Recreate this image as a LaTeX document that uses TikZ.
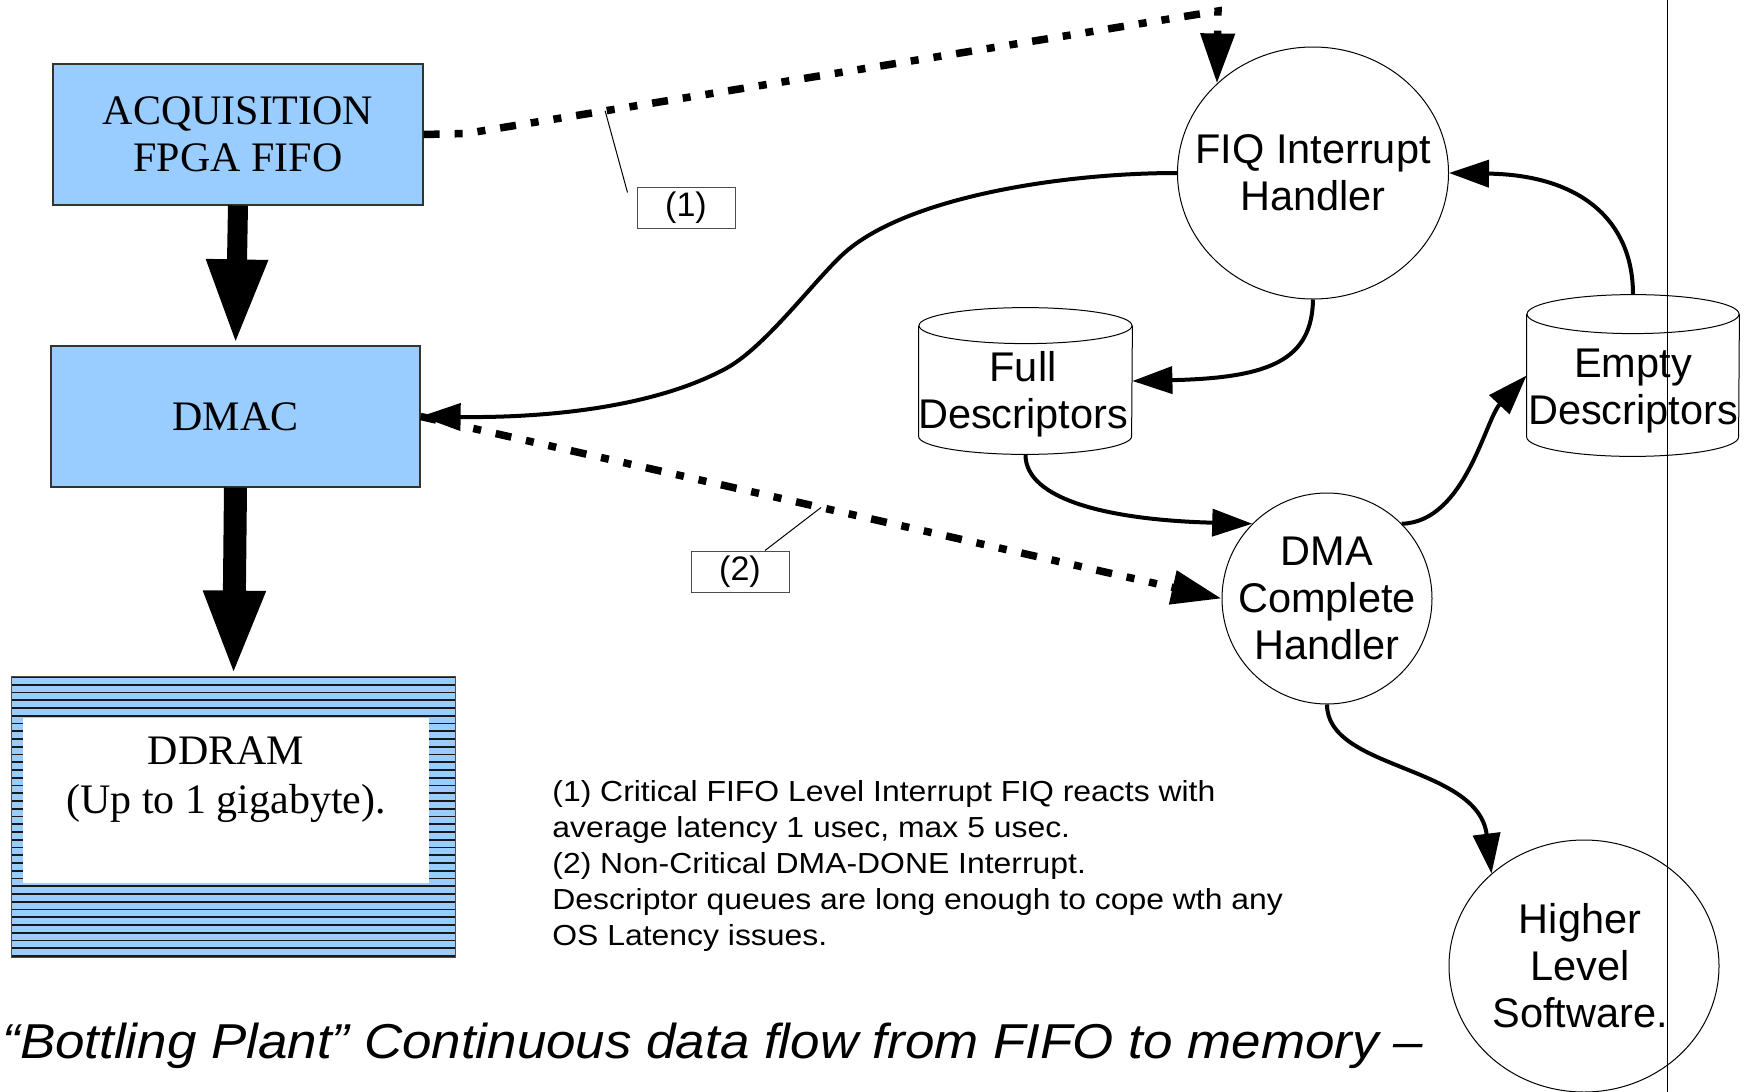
\documentclass[tikz,border=0pt]{standalone}
\usepackage{fontspec}
\setmainfont{Liberation Serif}
\newfontfamily\sansf{Liberation Sans}
\newfontfamily\notesf[FakeStretch=1.1]{Liberation Sans}
\newfontfamily\captf[FakeStretch=1.08]{Liberation Sans}
\usetikzlibrary{arrows.meta,shapes.geometric,calc}
\definecolor{boxblue}{HTML}{99CCFF}
\begin{document}
\begin{tikzpicture}[x=0.5pt,y=0.5pt,
  bluebox/.style={draw=black!80, line width=0.6pt, fill=boxblue, inner sep=0pt, align=center,
    font=\fontsize{21pt}{23.6pt}\selectfont},
  handler/.style={ellipse, draw=black, line width=0.5pt, inner sep=0pt},
  htext/.style={align=center, inner sep=0pt, font=\sansf\fontsize{20.75pt}{23.5pt}\selectfont},
  cylbox/.style={inner sep=0pt},
  cyltext/.style={align=center, inner sep=0pt, font=\sansf\fontsize{20.75pt}{23.25pt}\selectfont},
  flow/.style={line width=2pt, -{Triangle[length=20pt,width=13.5pt]}},
  irq/.style={line width=3.75pt, dash pattern=on 8pt off 7.5pt on 4pt off 7.5pt on 4pt off 7.5pt,
    -{Triangle[length=25pt,width=16.5pt]}},
  bigarrow/.style={-{Triangle[length=43pt,width=28pt]}},
  callout/.style={line width=0.5pt, draw=black},
  tag/.style={draw=black!70, line width=0.5pt, minimum width=49pt, minimum height=20.5pt, inner sep=0pt,
    font=\sansf\fontsize{17pt}{20pt}\selectfont},
]
\useasboundingbox (0,0) rectangle (1751,-1092);

% ---- left column boxes
\node[bluebox, minimum width=185pt, minimum height=70.5pt] (acq) at (238,-134.5) {ACQUISITION\\FPGA FIFO};
\node[bluebox, minimum width=184.5pt, minimum height=70.5pt] (dmac) at (235.5,-416.5) {DMAC};

% ---- DDRAM striped box
\node[inner sep=0pt, minimum width=221.5pt, minimum height=140pt] (ddram) at (233.5,-817) {};
\fill[boxblue] (ddram.south west) rectangle (ddram.north east);
\foreach \i in {0,...,36} {
  \draw[black!90, line width=0.9pt] (12,{-677-7.75*\i}) -- (455,{-677-7.75*\i});
}
\draw[black!70, line width=0.7pt] (ddram.south west) rectangle (ddram.north east);
\fill[white] (23,-718) rectangle (429,-883);
\node[align=center, inner sep=0pt, font=\fontsize{21pt}{24.5pt}\selectfont] (ddramtext) at (226,-780) {DDRAM\\(Up to 1 gigabyte).};

% ---- big arrows
\draw[bigarrow, line width=10pt] (acq.south) -- (dmac.north);
\draw[bigarrow, line width=11.5pt] (dmac.south) -- (ddram.north);

% ---- handlers
\node[handler, minimum width=135.5pt, minimum height=126pt] (fiq) at (1313,-173) {};
\node[htext] (fiqtext) at (1313,-173) {FIQ Interrupt\\Handler};
\node[handler, minimum width=105pt, minimum height=105.5pt] (dma) at (1327,-598.5) {};
\node[htext] (dmatext) at (1327,-598.5) {DMA\\Complete\\Handler};
\node[handler, minimum width=135pt, minimum height=126pt] (hls) at (1584,-966) {};
\node[htext] (hlstext) at (1580,-966) {Higher\\Level\\Software.};

% ---- cylinders
\node[cylbox, minimum width=106.5pt, minimum height=73pt] (full) at (1025.5,-381) {};
\draw[line width=0.5pt] ([yshift=-9pt]full.north) ellipse [x radius=53.25pt, y radius=9pt];
\draw[line width=0.5pt] ([yshift=-9pt]full.north west) -- ([yshift=9pt]full.south west)
  arc[start angle=180, end angle=360, x radius=53.25pt, y radius=9pt] -- ([yshift=-9pt]full.north east);
\node[cyltext] (fulltext) at (1023,-394.5) {Full\\Descriptors};

\node[cylbox, minimum width=106pt, minimum height=80.5pt] (emp) at (1633,-375.5) {};
\draw[line width=0.5pt] ([yshift=-9.75pt]emp.north) ellipse [x radius=53pt, y radius=9.75pt];
\draw[line width=0.5pt] ([yshift=-9.75pt]emp.north west) -- ([yshift=9.75pt]emp.south west)
  arc[start angle=180, end angle=360, x radius=53pt, y radius=9.75pt] -- ([yshift=-9.75pt]emp.north east);
\node[cyltext] (emptext) at (1633,-391) {Empty\\Descriptors};

% ---- tags
\node[tag] (c1) at (686,-207.5) {(1)};
\node[tag] (c2) at (740,-571.5) {(2)};

% ---- interrupt (dotted) connectors
\draw[irq] (acq.east) -- (466,-133.5) -- coordinate[pos=0.185] (k1) (1218,-11) -- (fiq.137);
\draw[irq] (dmac.east) -- coordinate[pos=0.5] (k2) (dma.west);
\draw[callout] (k1) -- ([shift={(-9,-6)}]c1.north west);
\draw[callout] (k2) -- ([xshift=12.5pt]c2.north);

% ---- solid flow connectors
\draw[flow] (fiq.west) .. controls (1060,-173) and (900,-198) .. (840,-257)
  .. controls (810,-286) and (763,-349) .. (725,-369)
  .. controls (650,-409) and (540,-418) .. (dmac.east);
\draw[flow] (fiq.south) .. controls (1312,-360) and (1270,-378) .. (full.east);
\draw[flow] (full.south) .. controls (1025,-500) and (1110,-520) .. (dma.135);
\draw[flow] (dma.45) .. controls (1465,-522) and (1485,-420) .. (emp.west);
\draw[flow] (emp.north) .. controls (1633,-220) and (1580,-175) .. (fiq.east);
\draw[flow] (dma.south) .. controls (1327,-770) and (1478,-765) .. (hls.135);

% ---- notes
\node[anchor=north west, align=left, inner sep=0pt, font=\notesf\fontsize{14.5pt}{18pt}\selectfont] (notes) at (552,-780)
 {(1) Critical FIFO Level Interrupt FIQ reacts with\\
  average latency 1 usec, max 5 usec.\\
  (2) Non-Critical DMA-DONE Interrupt.\\
  Descriptor queues are long enough to cope wth any\\
  OS Latency issues.};

% ---- caption
\node[anchor=base west, inner sep=0pt, font=\captf\itshape\fontsize{24.5pt}{28pt}\selectfont] (caption) at (2,-1058)
 {“Bottling Plant” Continuous data flow from FIFO to memory –};

% ---- vertical rule
\coordinate (vtop) at (1667,0);
\coordinate (vbot) at (1667,-1092);
\draw[line width=0.5pt] (vtop) -- (vbot);
\end{tikzpicture}
\end{document}
